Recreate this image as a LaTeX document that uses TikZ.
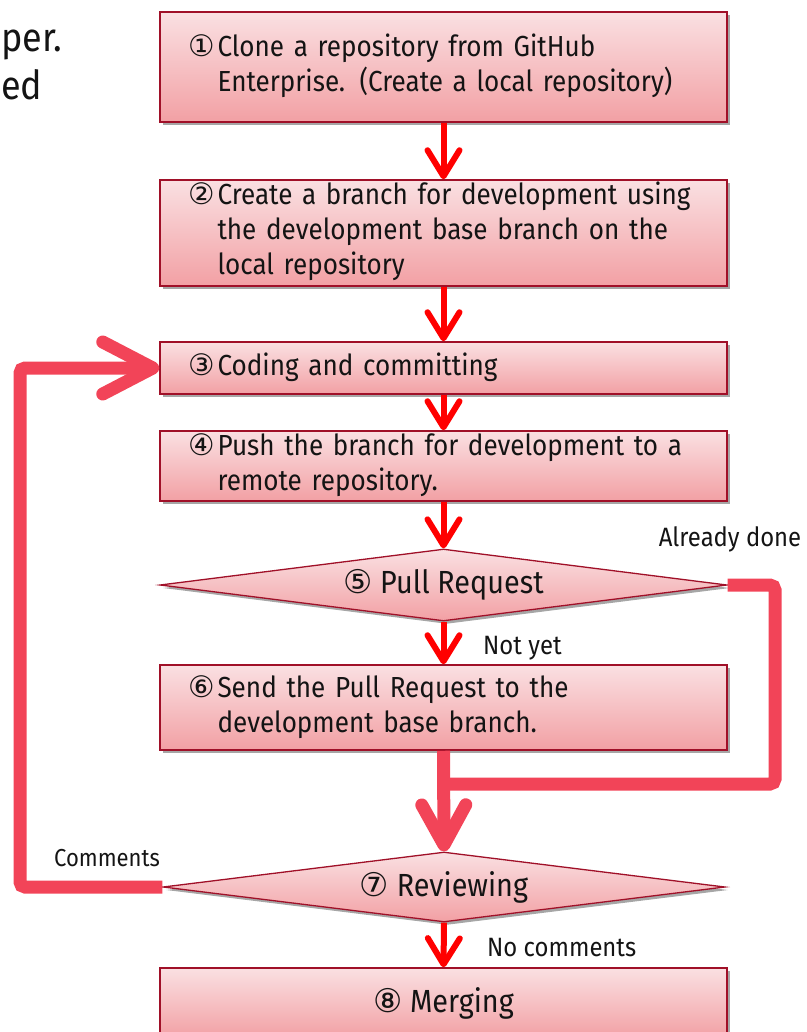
\documentclass[tikz,border=0pt]{standalone}
\usepackage{fontspec}
\setmainfont{Fira Sans}[FakeStretch=0.9]
\newfontfamily\symfont{DejaVu Sans}
\usetikzlibrary{arrows.meta,shapes.geometric,shadows}
\definecolor{boxtop}{RGB}{250,224,226}
\definecolor{boxbot}{RGB}{242,160,164}
\definecolor{boxedge}{RGB}{160,16,40}
\definecolor{flowred}{RGB}{255,0,0}
\definecolor{looppink}{RGB}{242,68,88}
\definecolor{inktext}{RGB}{20,20,20}
\newcommand\cnum[1]{{\symfont\scalebox{1.02}{#1}}}
\newcommand\steplines[2]{\begin{tabular}{@{}l@{\hspace{3pt}}l@{}}\cnum{#1} & #2\end{tabular}}
\tikzset{
  boxshadow/.style={drop shadow={shadow xshift=3pt,shadow yshift=-3pt,opacity=.35,fill=black}},
  stepbox/.style={rectangle, draw=boxedge, line width=1.5pt, top color=boxtop, bottom color=boxbot,
    minimum width=567pt, text width=511pt, align=left, inner xsep=28pt, inner ysep=0pt, boxshadow},
  endbox/.style={rectangle, draw=boxedge, line width=1.5pt, top color=boxtop, bottom color=boxbot,
    minimum width=567pt, inner sep=0pt, font=\fontsize{32}{38}\selectfont, boxshadow},
  decision/.style={diamond, draw=boxedge, line width=1.3pt, top color=boxtop, bottom color=boxbot,
    aspect=7.9, inner sep=0pt, font=\fontsize{32}{38}\selectfont, boxshadow},
  flowarrow/.style={draw=flowred, line width=6pt, -{Straight Barb[length=26pt,width=32pt,round]}},
  loopline/.style={draw=looppink, line width=13pt, rounded corners=5pt},
  looparrow/.style={loopline, -{Straight Barb[length=40pt,width=44pt,round]}},
  bigloophead/.style={loopline, -{Straight Barb[length=50pt,width=52pt,round]}},
  branchlabel/.style={font=\fontsize{26.5}{30}\selectfont, text=inktext, inner sep=0pt},
}
\begin{document}
\begin{tikzpicture}[x=1pt,y=-1pt,font=\fontsize{29}{35}\selectfont,text=inktext]
\useasboundingbox (0,0) rectangle (806,1032);

% fragment of the running text at the left edge
\node[anchor=base west, font=\fontsize{40}{48}\selectfont, inner sep=0pt] (para1) at (1,52) {per.};
\node[anchor=base west, font=\fontsize{40}{48}\selectfont, inner sep=0pt] (para2) at (1,100) {ed};

% process steps
\node[stepbox, minimum height=110pt] (s1) at (443.5,67)
  {\steplines{①}{Clone a repository from GitHub\\ & Enterprise. (Create a local repository)}};
\node[stepbox, minimum height=106pt] (s2) at (443.5,233)
  {\steplines{②}{Create a branch for development using\\ & the development base branch on the\\ & local repository}};
\node[stepbox, minimum height=52pt] (s3) at (443.5,368)
  {\steplines{③}{Coding and committing}};
\node[stepbox, minimum height=68pt] (s4) at (443.5,466)
  {\steplines{④}{Push the branch for development to a\\ & remote repository.}};
\node[decision, minimum width=567pt, minimum height=72pt] (s5) at (443.5,585)
  {\cnum{⑤} Pull Request};
\node[stepbox, minimum height=85pt] (s6) at (443.5,707.5)
  {\steplines{⑥}{Send the Pull Request to the\\ & development base branch.}};
\node[decision, minimum width=562pt, minimum height=70pt] (s7) at (444,887)
  {\cnum{⑦} Reviewing};
\node[endbox, minimum height=70pt] (s8) at (443.5,1003)
  {\cnum{⑧} Merging};

% main flow
\draw[flowarrow] (s1.south) -- (s2.north);
\draw[flowarrow] (s2.south) -- (s3.north);
\draw[flowarrow] (s3.south) -- (s4.north);
\draw[flowarrow] (s4.south) -- (s5.north);
\draw[flowarrow] (s5.south) -- (s6.north);
\draw[flowarrow] (s7.south) -- (s8.north);

% "already done" bypass joining below step 6
\coordinate (bypassR) at (775,784);
\coordinate (joinpt) at (443.5,784);
\draw[loopline] (s5.east) -| (bypassR) -- (joinpt);
\draw[looparrow] (s6.south) -- (s7.north);

% review comments loop back to coding
\coordinate (loopL) at (20,368);
\draw[bigloophead] (s7.west) -| (loopL) -- (s3.west);

% branch labels
\node[branchlabel, anchor=center] (lblDone) at (730,539) {Already done};
\node[branchlabel, anchor=west] (lblNot) at (483,648) {Not yet};
\node[branchlabel, anchor=center, font=\fontsize{24.5}{30}\selectfont] (lblCom) at (107,858) {Comments};
\node[branchlabel, anchor=west] (lblNoCom) at (487,948) {No comments};
\end{tikzpicture}
\end{document}
